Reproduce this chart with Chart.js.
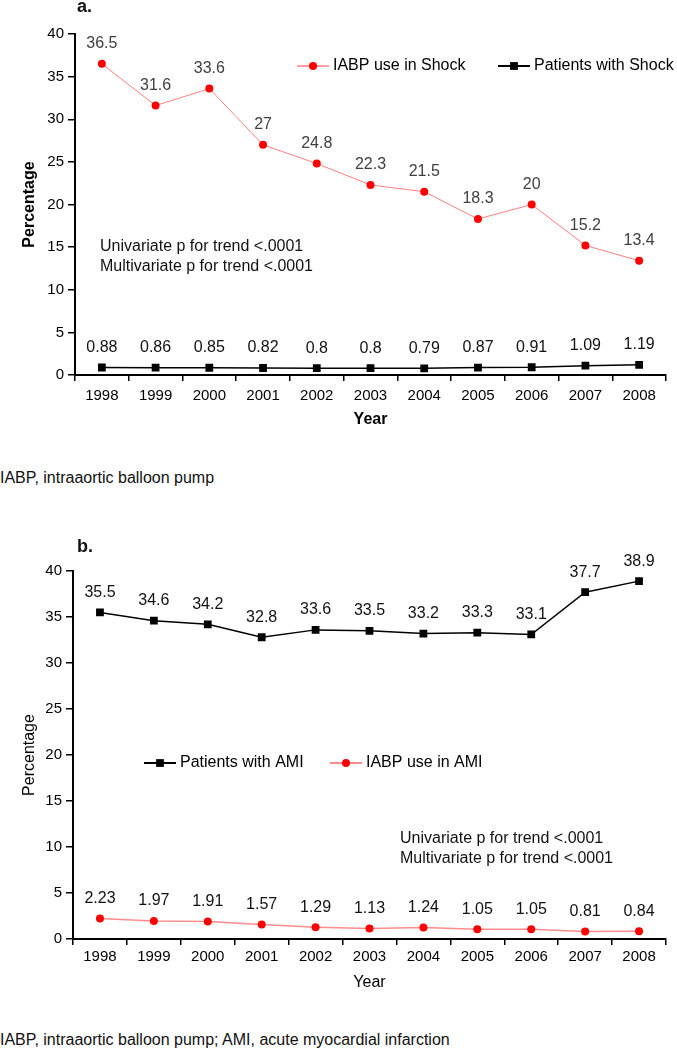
<!DOCTYPE html>
<html>
<head>
<meta charset="utf-8">
<script src="https://cdn.jsdelivr.net/npm/chart.js@4.4.0/dist/chart.umd.min.js"></script>
<style>
  body { margin: 0; background: #fff; font-family: Arial, "Liberation Sans", sans-serif; }
  #page { position: relative; width: 677px; height: 1050px; overflow: hidden; }
  canvas { position: absolute; left: 0; }
  .txt { position: absolute; font-size: 16px; color: #111; white-space: nowrap; line-height: 20px; }
</style>
</head>
<body>
<div id="page">
  <canvas id="chartA" width="677" height="440" style="top:0"></canvas>
  <div class="txt" style="left:77px;top:-4px;font-weight:bold;font-size:18px">a.</div>
  <div class="txt" style="left:100px;top:236px">Univariate p for trend &lt;.0001<br>Multivariate p for trend &lt;.0001</div>
  <div class="txt" style="left:0;top:468px">IABP, intraaortic balloon pump</div>

  <canvas id="chartB" width="677" height="470" style="top:540px"></canvas>
  <div class="txt" style="left:77px;top:536px;font-weight:bold;font-size:18px">b.</div>
  <div class="txt" style="left:400px;top:828px">Univariate p for trend &lt;.0001<br>Multivariate p for trend &lt;.0001</div>
  <div class="txt" style="left:0;top:1030px">IABP, intraaortic balloon pump; AMI, acute myocardial infarction</div>
</div>
<script>
const years = ["1998", "1999", "2000", "2001", "2002", "2003", "2004", "2005", "2006", "2007", "2008"];
const yTicks = [0, 5, 10, 15, 20, 25, 30, 35, 40];

// panel a
const iabpShock = [36.5, 31.6, 33.6, 27, 24.8, 22.3, 21.5, 18.3, 20, 15.2, 13.4];
const patientsShock = [0.88, 0.86, 0.85, 0.82, 0.8, 0.8, 0.79, 0.87, 0.91, 1.09, 1.19];

// panel b
const patientsAMI = [35.5, 34.6, 34.2, 32.8, 33.6, 33.5, 33.2, 33.3, 33.1, 37.7, 38.9];
const iabpAMI = [2.23, 1.97, 1.91, 1.57, 1.29, 1.13, 1.24, 1.05, 1.05, 0.81, 0.84];

const FONT = 'Arial, "Liberation Sans", sans-serif';

// point labels + hand placed legend
const extras = {
  id: 'extras',
  afterDatasetsDraw(chart, args, opts) {
    const ctx = chart.ctx;
    ctx.save();
    ctx.font = '16px ' + FONT;
    ctx.textAlign = 'center';
    ctx.textBaseline = 'middle';
    chart.data.datasets.forEach((ds, i) => {
      const meta = chart.getDatasetMeta(i);
      ctx.fillStyle = ds.labelColor;
      meta.data.forEach((pt, j) => {
        ctx.fillText(String(ds.data[j]), pt.x, pt.y - 20);
      });
    });
    ctx.textAlign = 'left';
    opts.items.forEach(item => {
      const ds = chart.data.datasets[item.ds];
      ctx.strokeStyle = ds.borderColor;
      ctx.lineWidth = ds.borderWidth + 0.5;
      ctx.beginPath();
      ctx.moveTo(item.x, item.y);
      ctx.lineTo(item.x + 32, item.y);
      ctx.stroke();
      ctx.fillStyle = ds.pointBackgroundColor;
      Chart.helpers.drawPoint(ctx, { pointStyle: ds.pointStyle, radius: ds.pointRadius, borderWidth: 0, rotation: 0 }, item.x + 16, item.y);
      ctx.fillStyle = '#000';
      ctx.fillText(ds.label, item.x + 36, item.y);
    });
    ctx.restore();
  }
};

function makeScales(o) {
  return {
    x: {
      offset: true,
      ticks: { color: '#000', font: { size: 15, family: FONT }, padding: o.xPad, maxRotation: 0, autoSkip: false },
      grid: { drawOnChartArea: false, tickLength: 6, color: '#000', lineWidth: 1.5, offset: true },
      border: { color: '#000', width: 2 },
      title: { display: true, text: 'Year', color: '#000', font: { size: 16, weight: o.bold ? 'bold' : 'normal', family: FONT }, padding: { top: 0, bottom: 0 } },
      afterFit(s) { s.height = o.xHeight; }
    },
    y: {
      min: 0,
      max: 40,
      afterBuildTicks(s) { s.ticks = yTicks.map(v => ({ value: v })); },
      ticks: { color: '#000', font: { size: 15, family: FONT }, padding: 4 },
      grid: { drawOnChartArea: false, tickLength: 7, color: '#000', lineWidth: 1.5 },
      border: { color: '#000', width: 2 },
      title: { display: true, text: 'Percentage', color: '#000', font: { size: 16, weight: o.bold ? 'bold' : 'normal', family: FONT }, padding: { top: 20, bottom: 0 } },
      afterFit(s) { s.width = o.yWidth; }
    }
  };
}

new Chart(document.getElementById('chartA'), {
  type: 'line',
  data: {
    labels: years,
    datasets: [
      {
        label: 'IABP use in Shock',
        data: iabpShock,
        borderColor: '#ff7f7f',
        borderWidth: 1,
        pointStyle: 'circle',
        pointRadius: 4,
        pointBackgroundColor: '#ff0000',
        pointBorderWidth: 0,
        labelColor: '#404040'
      },
      {
        label: 'Patients with Shock',
        data: patientsShock,
        borderColor: '#000',
        borderWidth: 1.5,
        pointStyle: 'rect',
        pointRadius: 5.5,
        pointBackgroundColor: '#000',
        pointBorderWidth: 0,
        labelColor: '#111'
      }
    ]
  },
  options: {
    responsive: false,
    animation: false,
    layout: { padding: { top: 34, right: 11, left: 0, bottom: 11 } },
    scales: makeScales({ xPad: 6, xHeight: 54, yWidth: 75, bold: true }),
    plugins: {
      legend: { display: false },
      tooltip: { enabled: false },
      extras: { items: [ { ds: 0, x: 297, y: 66 }, { ds: 1, x: 498, y: 66 } ] }
    }
  },
  plugins: [extras]
});

new Chart(document.getElementById('chartB'), {
  type: 'line',
  data: {
    labels: years,
    datasets: [
      {
        label: 'Patients with AMI',
        data: patientsAMI,
        borderColor: '#000',
        borderWidth: 1.5,
        pointStyle: 'rect',
        pointRadius: 5.5,
        pointBackgroundColor: '#000',
        pointBorderWidth: 0,
        labelColor: '#111'
      },
      {
        label: 'IABP use in AMI',
        data: iabpAMI,
        borderColor: '#ff8c8c',
        borderWidth: 1.5,
        pointStyle: 'circle',
        pointRadius: 4,
        pointBackgroundColor: '#ff0000',
        pointBorderWidth: 0,
        labelColor: '#111'
      }
    ]
  },
  options: {
    responsive: false,
    animation: false,
    layout: { padding: { top: 31, right: 11, left: 0, bottom: 18 } },
    scales: makeScales({ xPad: 3, xHeight: 53, yWidth: 73, bold: false }),
    plugins: {
      legend: { display: false },
      tooltip: { enabled: false },
      extras: { items: [ { ds: 0, x: 144, y: 223 }, { ds: 1, x: 330, y: 223 } ] }
    }
  },
  plugins: [extras]
});
</script>
</body>
</html>
